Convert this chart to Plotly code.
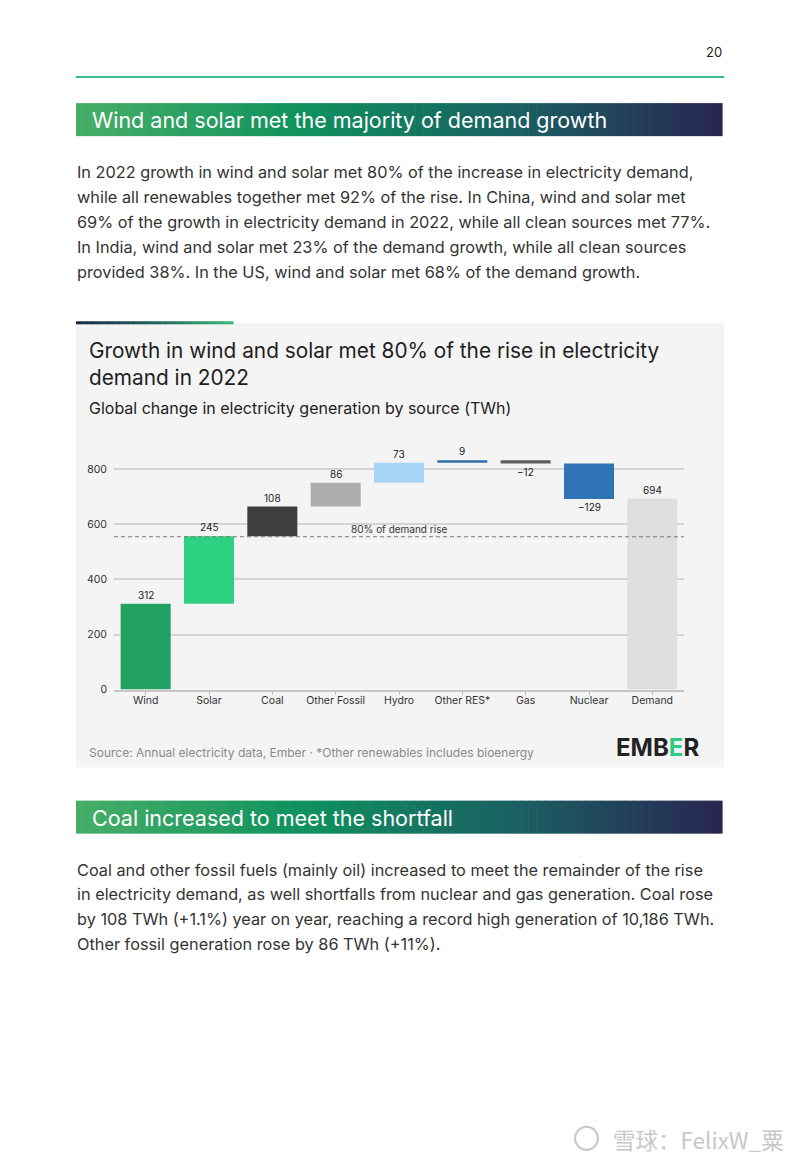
import plotly.graph_objects as go

# ---------------- data ----------------
categories = ["Wind", "Solar", "Coal", "Other Fossil", "Hydro", "Other RES*", "Gas", "Nuclear", "Demand"]
changes = [312, 245, 108, 86, 73, 9, -12, -129]
demand_total = 694
demand_share = 0.80
bar_colors = ["#21a162", "#2ed082", "#3f3f3f", "#acacac", "#a8d5f6", "#2f6ea6", "#5e5e5e", "#2f74b5", "#dedede"]
y_ticks = [0, 200, 400, 600, 800]

# page is offset by the browser's 8px body margin; the capture is slightly squeezed vertically
OFF = 8
VS = 0.9932
W, H = 800 - 2 * OFF, 1151
def px(x):
    return (x - OFF) / W
def py(y):
    return 1 - (y / VS - OFF) / H

# waterfall bases
bases, lengths = [], []
run = 0
for v in changes:
    bases.append(run if v >= 0 else run + v)
    lengths.append(abs(v))
    run += v
bases.append(0)
lengths.append(demand_total)
values = changes + [demand_total]

FONT = "Inter"
TXT = "#2d2d2d"

fig = go.Figure()
fig.add_trace(go.Bar(
    x=categories, y=lengths, base=bases,
    marker=dict(color=bar_colors, line=dict(width=0)),
    width=0.79, hoverinfo="skip", showlegend=False,
))

annotations = []
shapes = []

# bar value labels
for cat, b, l, v in zip(categories, bases, lengths, values):
    if v >= 0:
        annotations.append(dict(x=cat, y=b + l, xref="x", yref="y", text=str(v),
                                showarrow=False, yanchor="middle", yshift=9,
                                font=dict(size=10, color="#222", family=FONT)))
    else:
        annotations.append(dict(x=cat, y=b, xref="x", yref="y", text="\u2212" + str(abs(v)),
                                showarrow=False, yanchor="middle", yshift=-8,
                                font=dict(size=10, color="#222", family=FONT)))

# 80% line
line_y = demand_share * demand_total
shapes.append(dict(type="line", xref="x domain", yref="y", x0=0, x1=1, y0=line_y, y1=line_y,
                   line=dict(color="#7a7a7a", width=1, dash="4px,3px"), layer="above"))
annotations.append(dict(x="Hydro", y=line_y, xref="x", yref="y", text="80% of demand rise",
                        showarrow=False, yanchor="middle", yshift=8,
                        font=dict(size=10, color="#333", family=FONT)))

# chart panel background
shapes.append(dict(type="rect", xref="paper", yref="paper", x0=px(76), x1=px(724), y0=py(767), y1=py(323),
                   fillcolor="#f4f4f4", line=dict(width=0), layer="below"))

def lerp_color(stops, t):
    for i in range(len(stops) - 1):
        t0, c0 = stops[i]
        t1, c1 = stops[i + 1]
        if t0 <= t <= t1:
            f = (t - t0) / (t1 - t0) if t1 > t0 else 0
            c = [round(c0[k] + (c1[k] - c0[k]) * f) for k in range(3)]
            return "rgb(%d,%d,%d)" % tuple(c)
    c = stops[-1][1]
    return "rgb(%d,%d,%d)" % tuple(c)

def gradient_rect(x0, x1, y0, y1, stops, n=80):
    step = (x1 - x0) / n
    for i in range(n):
        t = (i + 0.5) / n
        shapes.append(dict(type="rect", xref="paper", yref="paper",
                           x0=px(x0 + i * step), x1=px(x0 + (i + 1) * step + 0.6),
                           y0=py(y1), y1=py(y0), fillcolor=lerp_color(stops, t),
                           line=dict(width=0), layer="below"))

header_stops = [(0.0, (72, 174, 104)), (0.35, (14, 146, 94)), (0.7, (27, 92, 98)), (1.0, (40, 38, 82))]
gradient_rect(76, 722, 103, 136, header_stops)
gradient_rect(76, 722, 800, 833, header_stops)
# chart accent line
gradient_rect(76, 233, 321, 324, [(0.0, (30, 40, 72)), (0.5, (30, 100, 90)), (1.0, (60, 184, 122))], n=30)

# page rule
shapes.append(dict(type="line", xref="paper", yref="paper", x0=px(76), x1=px(724), y0=py(77), y1=py(77),
                   line=dict(color="#3cbf8c", width=2)))

def text(x, y, s, size, color=TXT, anchor="left", family=FONT):
    annotations.append(dict(x=px(x), y=py(y), xref="paper", yref="paper", text=s, showarrow=False,
                            xanchor=anchor, yanchor="middle", font=dict(size=size, color=color, family=family)))

text(724, 52, "20", 13, "#222", anchor="right")
text(90, 120, "Wind and solar met the majority of demand growth", 21.5, "#ffffff")
text(90, 817, "Coal increased to meet the shortfall", 21.5, "#ffffff")

para1 = [
    "In 2022 growth in wind and solar met 80% of the increase in electricity demand,",
    "while all renewables together met 92% of the rise. In China, wind and solar met",
    "69% of the growth in electricity demand in 2022, while all clean sources met 77%.",
    "In India, wind and solar met 23% of the demand growth, while all clean sources",
    "provided 38%. In the US, wind and solar met 68% of the demand growth.",
]
for i, s in enumerate(para1):
    text(75, 172 + 25 * i, s, 16.3, "#333")

para2 = [
    "Coal and other fossil fuels (mainly oil) increased to meet the remainder of the rise",
    "in electricity demand, as well shortfalls from nuclear and gas generation. Coal rose",
    "by 108 TWh (+1.1%) year on year, reaching a record high generation of 10,186 TWh.",
    "Other fossil generation rose by 86 TWh (+11%).",
]
for i, s in enumerate(para2):
    text(75, 869 + 24.7 * i, s, 16.3, "#333")

text(87, 350, "Growth in wind and solar met 80% of the rise in electricity", 20.8, "#1e1e1e")
text(87, 377, "demand in 2022", 20.8, "#1e1e1e")
text(87, 408, "Global change in electricity generation by source (TWh)", 16, "#222")
text(87, 752, "Source: Annual electricity data, Ember \u00b7 *Other renewables includes bioenergy", 12, "#8a8a8a")
text(701, 747, "<b>EMB<span style='color:#2ecc80'>E</span>R</b>", 24, "#222", anchor="right")

# watermark
text(786, 1138, "雪球：FelixW_粟", 22.5, "#c8c8c8", anchor="right", family="Noto Sans CJK SC")
shapes.append(dict(type="circle", xref="paper", yref="paper", x0=px(575), x1=px(598), y0=py(1149), y1=py(1126),
                   line=dict(color="#c8c8c8", width=2)))

fig.update_layout(
    width=W, height=H,
    margin=dict(l=0, r=0, t=0, b=0),
    paper_bgcolor="#ffffff",
    plot_bgcolor="rgba(0,0,0,0)",
    showlegend=False,
    bargap=0.21,
    xaxis=dict(domain=[px(114), px(684)], type="category", categoryorder="array", categoryarray=categories,
               range=[-0.5, len(categories) - 0.5],
               showgrid=False, showline=True, linecolor="#c6c6c6", linewidth=1.5,
               ticks="outside", ticklen=4, tickcolor="#bdbdbd", tickwidth=1, ticklabelstandoff=-4,
               tickfont=dict(size=10.5, color="#333", family=FONT), anchor="y"),
    yaxis=dict(domain=[py(689), py(455.25)], range=[0, 850], tickvals=y_ticks,
               showgrid=True, gridcolor="#d3d3d3", gridwidth=1.5,
               zeroline=False, showline=False, ticks="", ticklabelstandoff=6,
               tickfont=dict(size=10.5, color="#333", family=FONT)),
    annotations=annotations,
    shapes=shapes,
    font=dict(family=FONT),
)

fig.write_html("out.html")
